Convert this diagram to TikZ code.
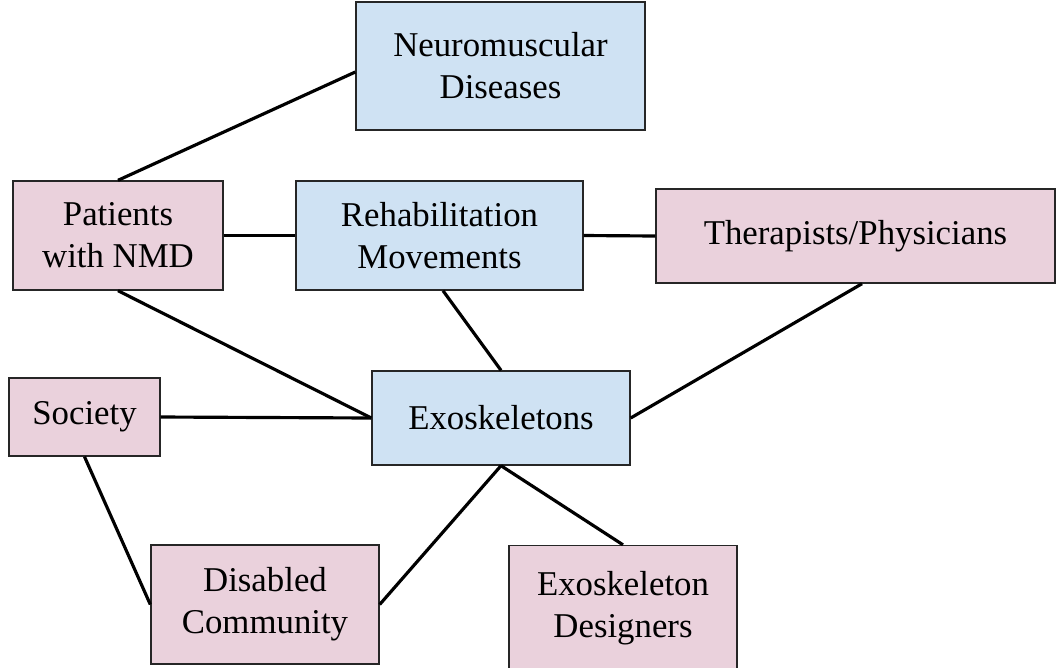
\documentclass[tikz,border=0pt]{standalone}
\usepackage{fontspec}
\setmainfont{Liberation Serif}
\usepackage{tikz}

\definecolor{blueBox}{HTML}{CFE2F3}
\definecolor{pinkBox}{HTML}{EAD1DC}

\begin{document}
\begin{tikzpicture}[x=0.02cm,y=-0.02cm]
% Box styles
\tikzset{
    box/.style={draw=black!85,line width=0.8pt,align=center,inner sep=2pt,
        font=\fontsize{19.8}{23.9}\selectfont},
    topic/.style={box,fill=blueBox},
    actor/.style={box,fill=pinkBox},
    link/.style={line width=1.8pt}
}
\useasboundingbox (0,0) rectangle (1057,667);
% Topics
\node[topic,minimum width=5.78cm,minimum height=2.56cm] (Nmd) at (500.5,66) {Neuromuscular\\Diseases};
\node[topic,minimum width=5.74cm,minimum height=2.18cm] (Rehab) at (439.5,235.5) {Rehabilitation\\Movements};
\node[topic,minimum width=5.16cm,minimum height=1.88cm] (Exo) at (501,418) {Exoskeletons};
% Actors
\node[actor,minimum width=4.2cm,minimum height=2.18cm] (Patients) at (118,235.5) {Patients\\with NMD};
\node[actor,minimum width=7.98cm,minimum height=1.88cm] (Therap) at (855.5,236) {Therapists/Physicians};
\node[actor,minimum width=3.02cm,minimum height=1.56cm] (Society) at (84.5,417) {Society};
\node[actor,minimum width=4.56cm,minimum height=2.38cm] (Disabled) at (265,604.5) {Disabled\\Community};
\node[actor,minimum width=4.56cm,minimum height=2.5cm] (Designers) at (623,608) {Exoskeleton\\Designers};
% Connections
\draw[link] (Patients.north) -- ([yshift=-0.12cm]Nmd.west);
\draw[link] (Patients.east) -- (Rehab.west);
\draw[link] (Rehab.east) -- (Therap.west);
\draw[link] (Patients.south) -- (Exo.west);
\draw[link] ([xshift=0.07cm]Rehab.south) -- (Exo.north);
\draw[link] ([xshift=0.13cm]Therap.south) -- (Exo.east);
\draw[link] (Society.east) -- (Exo.west);
\draw[link] (Society.south) -- (Disabled.west);
\draw[link] (Exo.south) -- (Disabled.east);
\draw[link] (Exo.south) -- (Designers.north);
\end{tikzpicture}
\end{document}
